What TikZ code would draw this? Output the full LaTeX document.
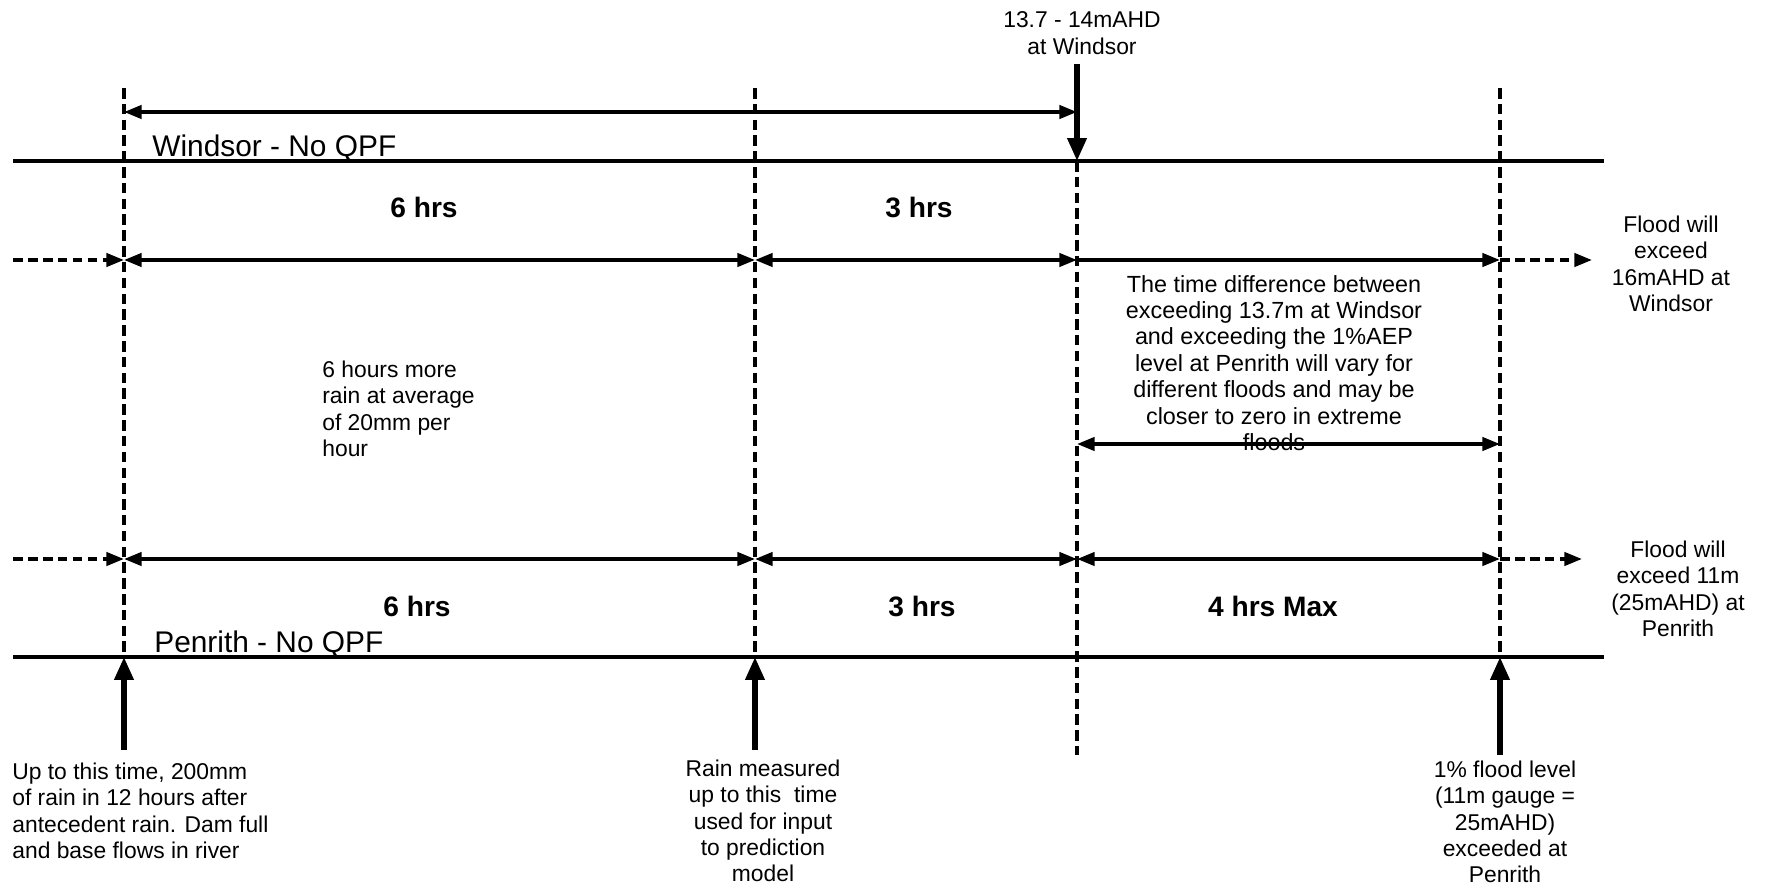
\documentclass[tikz,border=0pt]{standalone}
\usepackage{fontspec}
\setmainfont{Liberation Sans}
\usetikzlibrary{arrows.meta}
\begin{document}
\begin{tikzpicture}[x=0.02cm,y=-0.02cm,
  axisline/.style={line width=2.6pt},
  vdash/.style={line width=1.9pt,dash pattern=on 6pt off 3pt},
  dimline/.style={line width=2pt},
  hdash/.style={line width=2pt,dash pattern=on 5.5pt off 3pt},
  bigarrow/.style={line width=3pt,-{Triangle[length=13pt,width=10.5pt]}},
  >={Triangle[length=10pt,width=7.5pt]},
  txt/.style={inner sep=0pt,font=\fontsize{13}{15}\selectfont},
  hrs/.style={inner sep=0pt,anchor=base,font=\fontsize{16}{19}\bfseries},
  station/.style={inner sep=0pt,anchor=base west,font=\fontsize{17}{20}\selectfont}]
\useasboundingbox (0,0) rectangle (1768,888);
% key coordinates
\coordinate (L1) at (13,161);   \coordinate (R1) at (1604,161);
\coordinate (L2) at (13,657);   \coordinate (R2) at (1604,657);
\coordinate (a1) at (124,88);   \coordinate (b1) at (124,657);  \coordinate (c1) at (124,750);
\coordinate (a2) at (755,88);   \coordinate (b2) at (755,657);  \coordinate (c2) at (755,750);
\coordinate (a3) at (1077,64);  \coordinate (b3) at (1077,161); \coordinate (c3) at (1077,755);
\coordinate (a4) at (1500,88);  \coordinate (b4) at (1500,657); \coordinate (c4) at (1500,755);
\coordinate (t1) at (124,112);  \coordinate (t3) at (1077,112);
\coordinate (r0) at (13,260);   \coordinate (r1) at (124,260);  \coordinate (r2) at (755,260);
\coordinate (r3) at (1077,260); \coordinate (r4) at (1500,260); \coordinate (r5) at (1592,260);
\coordinate (f3) at (1077,444); \coordinate (f4) at (1500,444);
\coordinate (s0) at (13,559);   \coordinate (s1) at (124,559);  \coordinate (s2) at (755,559);
\coordinate (s3) at (1077,559); \coordinate (s4) at (1500,559); \coordinate (s5) at (1582,559);
% vertical dashed time lines
\draw[vdash] (a1) -- (b1);
\draw[vdash] (a2) -- (b2);
\draw[vdash] (b3) -- (c3);
\draw[vdash] (a4) -- (b4);
% station lines
\draw[axisline] (L1) -- (R1);
\draw[axisline] (L2) -- (R2);
% vertical arrows
\draw[bigarrow] (a3) -- (b3);
\draw[bigarrow] (c1) -- (b1);
\draw[bigarrow] (c2) -- (b2);
\draw[bigarrow] (c4) -- (b4);
% dimension arrows
\draw[dimline,<->] (t1) -- (t3);
\draw[hdash,->] (r0) -- (r1);
\draw[dimline,<->] (r1) -- (r2);
\draw[dimline,<->] (r2) -- (r3);
\draw[dimline,->] (r3) -- (r4);
\draw[hdash,->] (r4) -- (r5);
\draw[dimline,<->] (f3) -- (f4);
\draw[hdash,->] (s0) -- (s1);
\draw[dimline,<->] (s1) -- (s2);
\draw[dimline,<->] (s2) -- (s3);
\draw[dimline,<->] (s3) -- (s4);
\draw[hdash,->] (s4) -- (s5);
% labels
\node[txt,align=center] (lvl) at (1082,33) {13.7 - 14mAHD\\ at Windsor};
\node[station] (wlab) at (152,157) {Windsor - No QPF};
\node[station] (plab) at (154,652) {Penrith - No QPF};
\node[hrs] (w6) at (424,218) {6 hrs};
\node[hrs] (w3) at (919,218) {3 hrs};
\node[hrs] (p6) at (417,616) {6 hrs};
\node[hrs] (p3) at (922,616) {3 hrs};
\node[hrs] (p4) at (1273,616) {4 hrs Max};
\node[txt,align=center] (fw) at (1671,264) {Flood will\\exceed\\16mAHD at\\Windsor};
\node[txt,align=center,font=\fontsize{13.3}{15}\selectfont] (diff) at (1274,363) {The time difference between\\exceeding 13.7m at Windsor\\and exceeding the 1\%AEP\\level at Penrith will vary for\\different floods and may be\\closer to zero in extreme\\floods};
\node[txt,align=left,anchor=west] (rain) at (322,409) {6 hours more\\rain at average\\of 20mm per\\hour};
\node[txt,align=center] (fp) at (1678,589) {Flood will\\exceed 11m\\(25mAHD) at\\Penrith};
\node[txt,align=left,anchor=west] (upto) at (12,811) {Up to this time, 200mm\\of rain in 12 hours after\\antecedent rain. Dam full\\and base flows in river};
\node[txt,align=center] (meas) at (763,821) {Rain measured\\up to this\ \ time\\used for input\\to prediction\\model};
\node[txt,align=center] (onep) at (1505,822) {1\% flood level\\(11m gauge =\\25mAHD)\\exceeded at\\Penrith};
\end{tikzpicture}
\end{document}
